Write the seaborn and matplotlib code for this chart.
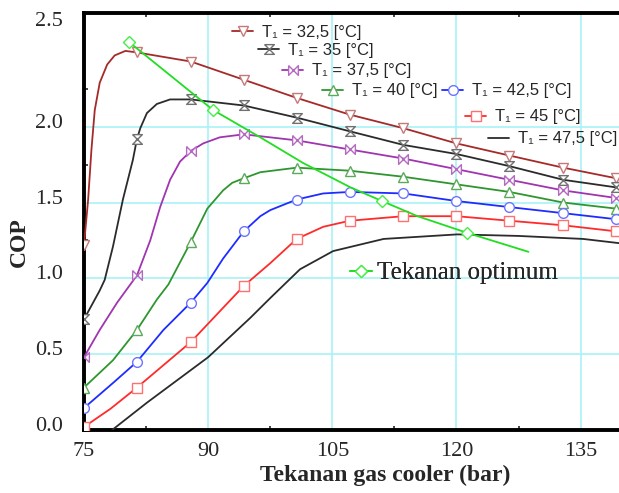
import numpy as np
import matplotlib
matplotlib.use("Agg")
import matplotlib.pyplot as plt
import matplotlib.transforms as mtransforms
from matplotlib.lines import Line2D
import seaborn as sns

# pressures where the series carry a marker (bar)
P_MARK = [75, 81.4, 87.9, 94.3, 100.7, 107.1, 113.6, 120, 126.4, 132.9, 139.3]

# T1 = 32.5 C
p_325 = [75, 75.5, 75.9, 76.3, 76.9, 77.8, 78.7, 80.0, 81.4, 87.9, 94.3, 100.7, 107.1, 113.6, 120, 126.4, 132.9, 139.3]
cop_325 = [1.22, 1.52, 1.85, 2.11, 2.29, 2.41, 2.47, 2.50, 2.49, 2.43, 2.31, 2.19, 2.08, 1.99, 1.89, 1.81, 1.73, 1.66]

# T1 = 35 C
p_35 = [75, 76.3, 76.9, 77.5, 78.5, 79.7, 80.9, 81.4, 81.8, 82.6, 83.8, 85.4, 87.9, 94.3, 100.7, 107.1, 113.6, 120, 126.4, 132.9, 139.3]
cop_35 = [0.73, 0.86, 0.92, 0.99, 1.21, 1.52, 1.78, 1.92, 1.99, 2.09, 2.15, 2.18, 2.18, 2.14, 2.06, 1.97, 1.88, 1.82, 1.74, 1.65, 1.60]

# T1 = 37.5 C
p_375 = [75, 76.9, 79.0, 81.4, 83.0, 84.2, 85.4, 86.6, 87.9, 89.4, 91.4, 94.3, 100.7, 107.1, 113.6, 120, 126.4, 132.9, 139.3]
cop_375 = [0.48, 0.66, 0.84, 1.02, 1.25, 1.47, 1.65, 1.77, 1.84, 1.89, 1.93, 1.95, 1.91, 1.85, 1.79, 1.72, 1.65, 1.58, 1.53]

# T1 = 40 C
p_40 = [75, 78.5, 81.4, 83.8, 85.2, 87.9, 89.9, 91.8, 92.9, 94.3, 96.3, 100.7, 107.1, 113.6, 120, 126.4, 132.9, 139.3]
cop_40 = [0.28, 0.46, 0.66, 0.86, 0.96, 1.24, 1.46, 1.58, 1.63, 1.66, 1.70, 1.73, 1.71, 1.67, 1.62, 1.57, 1.50, 1.46]

# T1 = 42.5 C
p_425 = [75, 78.5, 81.4, 84.6, 87.9, 89.9, 91.8, 94.3, 96.3, 97.5, 100.7, 103.9, 107.1, 113.6, 120, 126.4, 132.9, 139.3]
cop_425 = [0.145, 0.31, 0.45, 0.66, 0.84, 0.97, 1.13, 1.31, 1.41, 1.45, 1.52, 1.56, 1.57, 1.56, 1.51, 1.47, 1.43, 1.39]

# T1 = 45 C
p_45 = [75, 78.2, 81.4, 87.9, 94.3, 97.5, 100.7, 103.9, 107.1, 113.6, 120, 126.4, 132.9, 139.3]
cop_45 = [0.02, 0.14, 0.28, 0.58, 0.95, 1.10, 1.26, 1.34, 1.38, 1.41, 1.41, 1.38, 1.35, 1.31]

# T1 = 47.5 C (no markers)
p_475 = [78.4, 82.6, 90.0, 95.1, 97.5, 101.1, 105.1, 111.2, 120.1, 127.4, 135.3, 140]
cop_475 = [0.0, 0.18, 0.48, 0.74, 0.87, 1.06, 1.18, 1.26, 1.29, 1.28, 1.26, 1.23]

# optimum pressure line
p_opt = [80.4, 90.6, 96.3, 101.5, 107.2, 111.0, 115.3, 121.3, 128.7]
cop_opt = [2.56, 2.11, 1.93, 1.76, 1.60, 1.51, 1.41, 1.30, 1.175]
p_opt_mark = [80.4, 90.6, 111.0, 121.3]

labels = ["T₁ = 32,5 [°C]", "T₁ = 35 [°C]", "T₁ = 37,5 [°C]", "T₁ = 40 [°C]",
          "T₁ = 42,5 [°C]", "T₁ = 45 [°C]", "T₁ = 47,5 [°C]"]

x_ticks = [75, 90, 105, 120, 135]
y_ticks = [0.0, 0.5, 1.0, 1.5, 2.0]
y_labels = ["0.0", "0.5", "1.0", "1.5", "2.0"]

# marker shapes
hourglass = [(-1, 1), (1, 1), (-1, -1), (1, -1), (-1, 1)]
bowtie = [(-1, 1), (-1, -1), (1, 1), (1, -1), (-1, 1)]

sns.set_style("white")
plt.rcParams["font.family"] = ["Liberation Serif", "DejaVu Serif"]
sans = {"family": ["Liberation Sans", "DejaVu Sans"], "size": 12}

fig = plt.figure(figsize=(6.19, 4.93), dpi=100)
ax = fig.add_axes([84 / 619, 63 / 493, 538 / 619, 417 / 493])

series = [
    (p_325, cop_325, "#a52a2a", "#c47a7a", "v"),
    (p_35, cop_35, "#2b2b2b", "#707070", hourglass),
    (p_375, cop_375, "#a035b0", "#b46ac0", bowtie),
    (p_40, cop_40, "#2f962f", "#5aaa5a", "^"),
    (p_425, cop_425, "#1f2cff", "#6c74ff", "o"),
    (p_45, cop_45, "#ff2a2a", "#ff7070", "s"),
]

handles = []
for p, cop, c, ec, m in series:
    idx = [i for i, v in enumerate(p) if v in P_MARK]
    sns.lineplot(x=p, y=cop, ax=ax, color=c, linewidth=1.3, marker=m,
                 markevery=idx, markersize=7, markerfacecolor="white",
                 markeredgecolor=ec, markeredgewidth=1.0, zorder=3)
    handles.append(Line2D([], [], color=c, linewidth=1.3, marker=m, markersize=7,
                          markerfacecolor="white", markeredgecolor=ec, markeredgewidth=1.0))

sns.lineplot(x=p_475, y=cop_475, ax=ax, color="#2b2b2b", linewidth=1.3, zorder=3)
handles.append(Line2D([], [], color="#2b2b2b", linewidth=1.3))

opt_idx = [i for i, v in enumerate(p_opt) if v in p_opt_mark]
sns.lineplot(x=p_opt, y=cop_opt, ax=ax, color="#22dd22", linewidth=1.3, marker="D",
             markevery=opt_idx, markersize=6.5, markerfacecolor="white",
             markeredgecolor="#44ee44", markeredgewidth=1.0, zorder=4)
opt_handle = Line2D([], [], color="#22dd22", linewidth=1.3, marker="D", markersize=6.5,
                    markerfacecolor="white", markeredgecolor="#44ee44", markeredgewidth=1.0)

ax.set_xlim(75, 140)
ax.set_ylim(0, 2.75)

# cyan grid
for v in x_ticks[1:]:
    ax.axvline(v, color="#a8f2f6", linewidth=1.2, zorder=1)
for v in y_ticks[1:]:
    ax.axhline(v, color="#a8f2f6", linewidth=1.2, zorder=1)

ax.set_xticks(x_ticks)
ax.set_yticks(y_ticks + [2.67])
ax.set_yticklabels(y_labels + ["2.5"])
ax.set_xticks([82.5, 97.5, 112.5, 127.5], minor=True)
ax.set_yticks([0.25, 0.75, 1.25, 1.75, 2.25], minor=True)
ax.tick_params(which="major", length=0, labelsize=16)
ax.tick_params(axis="y", which="major", pad=15)
ax.tick_params(axis="x", which="major", pad=9)
ax.tick_params(which="minor", direction="in", length=3, width=1.2, top=True, left=True, bottom=True)

offset = mtransforms.ScaledTranslation(0, 0.06, fig.dpi_scale_trans)
for lab in ax.get_yticklabels():
    lab.set_transform(lab.get_transform() + offset)

for side in ["left", "bottom", "top"]:
    ax.spines[side].set_linewidth(2.8)
    ax.spines[side].set_color("black")

ax.set_xlabel("Tekanan gas cooler (bar)", fontsize=17, fontweight="bold")
ax.set_ylabel("COP", fontsize=17, fontweight="bold")
ax.xaxis.set_label_coords(0.56, -0.084)
ax.yaxis.set_label_coords(-0.1, 0.45)

# staggered legend entries (handle start x, centre y in pixels)
pos = [(232, 32), (258, 50), (282, 71), (322, 91), (442, 91), (465, 117), (488, 139)]
for h, lab, (px, py) in zip(handles, labels, pos):
    leg = ax.legend(handles=[h], labels=[lab], loc="center left",
                    bbox_to_anchor=(px / 619, 1 - py / 493), bbox_transform=fig.transFigure,
                    frameon=False, borderpad=0, borderaxespad=0, handlelength=1.26,
                    handletextpad=0.54, prop=sans)
    ax.add_artist(leg)

leg = ax.legend(handles=[opt_handle], labels=["Tekanan optimum"], loc="center left",
                bbox_to_anchor=(350 / 619, 1 - 273 / 493), bbox_transform=fig.transFigure,
                frameon=False, borderpad=0, borderaxespad=0, handlelength=0.88,
                handletextpad=0.2, prop={"family": "Liberation Serif", "size": 18})
ax.add_artist(leg)

fig.savefig("out.png", dpi=100)
